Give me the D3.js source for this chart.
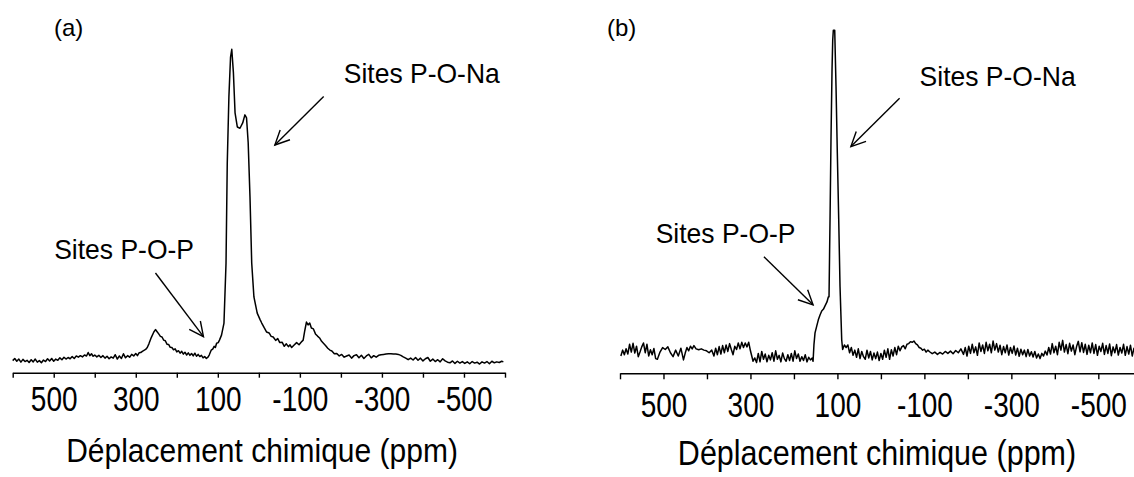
<!DOCTYPE html>
<html>
<head>
<meta charset="utf-8">
<script src="https://cdn.jsdelivr.net/npm/d3@7"></script>
<style>
  html, body { margin: 0; padding: 0; background: #fff; }
  svg { display: block; }
  text { font-family: "Liberation Sans", Arial, sans-serif; fill: #000; }
</style>
</head>
<body>
<svg id="chart" width="1134" height="477"></svg>
<script>
// Chemical shift axis (ppm): ticks every 100, labels on odd hundreds
const tickValues = [600, 500, 400, 300, 200, 100, 0, -100, -200, -300, -400, -500, -600];
const tickLabels = [500, 300, 100, -100, -300, -500];
const axisTitle = "Déplacement chimique (ppm)";

// Spectrum (a): [shift ppm, relative intensity]
const spectrumA = [
  [600,-0.2],[595,0.5],[590,-0.4],[585,0.3],[580,-0.7],[575,0.2],[570,-0.5],[565,-0.1],
  [560,-0.8],[555,0.1],[550,-0.6],[545,0.3],[540,-0.7],[535,-0.2],[530,-0.9],[525,0.0],
  [520,-0.5],[515,0.4],[510,-0.3],[505,0.5],[500,-0.4],[495,0.3],[490,-0.1],[485,0.7],
  [480,0.1],[475,0.9],[470,0.3],[465,0.8],[460,0.4],[455,1.1],[450,0.5],[445,1.3],
  [440,0.9],[435,1.4],[430,1.0],[425,1.6],[420,1.3],[416,2.4],[412,1.4],[408,2.0],
  [404,1.2],[400,1.6],[395,1.0],[390,1.5],[385,0.8],[380,1.4],[375,0.6],[370,1.2],
  [365,0.4],[360,1.0],[355,0.6],[350,1.7],[345,0.3],[340,1.3],[335,0.5],[330,2.0],
  [325,0.7],[320,1.4],[315,0.9],[310,1.8],[305,1.3],[300,2.1],[296,1.4],[292,2.3],
  [288,2.4],[284,2.8],[280,3.1],[276,3.4],[272,4.0],[268,5.2],[262,7.3],[256,9.0],
  [252,9.8],[248,9.1],[244,8.4],[240,7.6],[236,7.4],[232,6.4],[228,6.2],[224,5.1],
  [220,5.0],[216,4.1],[212,4.0],[208,3.3],[204,3.6],[200,2.6],[196,3.0],[192,2.2],
  [188,2.8],[184,1.9],[180,2.5],[176,1.6],[172,2.3],[168,1.5],[164,2.1],[160,1.3],
  [156,2.2],[152,1.2],[148,1.8],[144,1.1],[140,1.5],[136,0.7],[132,1.1],[128,0.5],
  [124,0.9],[121,1.6],[116,3.2],[112,3.6],[109,4.4],[106,4.0],[103,5.4],[99,5.6],
  [96,6.4],[91,8.0],[85,11.9],[80,31.2],[77,63.4],[73,84.7],[69,97.5],[66,100],
  [62,92.4],[58,79.5],[52.5,75.0],[46,74.6],[39.4,76.3],[34,78.9],[30,77.9],[26,69.9],
  [21.6,52.5],[17.4,31.2],[12,20.3],[4,15.1],[-3,13.0],[-7,11.9],[-13,10.4],[-19,9.0],
  [-25,8.7],[-30,7.6],[-35,7.4],[-41,6.3],[-46,6.9],[-51,5.6],[-57,5.7],[-62,4.4],
  [-67,5.2],[-72,4.3],[-76,4.9],[-80,4.0],[-86,4.8],[-92,5.6],[-98,4.9],[-103,5.7],
  [-108,6.4],[-112,9.5],[-116,12.2],[-120,11.3],[-124,11.9],[-128,10.3],[-133,10.0],[-138,8.4],
  [-143,7.7],[-148,7.1],[-153,6.0],[-158,5.3],[-163,4.6],[-168,3.8],[-173,3.2],[-178,2.9],
  [-184,2.0],[-190,2.1],[-196,1.3],[-202,1.8],[-208,0.9],[-214,1.3],[-220,1.6],[-226,0.6],
  [-232,1.4],[-238,1.7],[-244,0.7],[-250,1.5],[-256,0.5],[-262,1.3],[-268,1.8],[-274,0.7],
  [-280,1.4],[-286,0.9],[-292,1.5],[-298,1.7],[-304,1.8],[-310,1.9],[-316,2.0],[-322,2.0],
  [-328,1.9],[-334,1.9],[-340,1.8],[-346,1.5],[-352,1.0],[-358,0.6],[-364,0.1],[-370,0.6],
  [-376,0.0],[-382,0.8],[-388,-0.1],[-394,0.6],[-400,-0.3],[-406,0.4],[-412,0.8],[-418,-0.4],
  [-424,0.3],[-430,-0.5],[-436,0.1],[-442,-0.6],[-448,0.4],[-454,-0.3],[-460,-0.7],[-466,-0.9],
  [-472,-0.3],[-478,-1.1],[-484,-0.4],[-490,-1.0],[-496,-0.5],[-502,-1.1],[-508,-0.6],[-514,-1.2],
  [-520,-0.5],[-526,-1.0],[-532,-0.7],[-538,-1.3],[-544,-0.6],[-550,-1.0],[-556,-0.5],[-562,-1.2],
  [-568,-0.4],[-574,-0.9],[-580,-0.6],[-586,-0.8],[-592,-0.4],[-596,-0.6]
];

// Spectrum (b): [shift ppm, relative intensity]
const spectrumB = [
  [598,0.0],[594,1.8],[590,0.4],[586,2.2],[582,0.6],[578,3.6],[574,1.2],[570,3.9],
  [566,0.9],[562,3.0],[558,-0.2],[554,1.2],[550,2.8],[546,4.0],[542,1.0],[538,3.6],
  [534,0.0],[530,1.9],[526,0.4],[522,2.3],[518,-0.8],[514,-1.0],[508,1.2],[502,2.6],
  [496,2.0],[490,2.8],[484,1.0],[478,-0.2],[472,1.8],[466,0.0],[460,2.4],[454,-1.2],
  [450,0.9],[446,2.6],[442,1.6],[438,3.0],[434,2.2],[430,3.2],[425,2.2],[419,1.9],
  [413,2.2],[407,1.8],[401,1.6],[395,1.0],[389,1.8],[384,0.0],[380,2.4],[376,0.4],
  [372,2.9],[368,0.6],[364,3.2],[360,1.0],[356,3.4],[352,1.4],[348,3.8],[344,2.0],
  [340,0.4],[336,3.0],[332,2.0],[328,4.0],[324,2.2],[320,4.2],[316,2.6],[312,4.0],
  [308,2.8],[304,4.2],[300,1.6],[297,0.0],[294,-1.6],[290,-0.6],[286,-2.0],[282,0.8],
  [278,-1.8],[274,1.4],[270,-1.0],[266,0.6],[262,-1.8],[258,0.2],[254,-1.2],[250,1.0],
  [246,-1.6],[242,1.6],[238,-1.0],[234,0.2],[230,-1.8],[226,0.9],[222,-0.8],[218,-1.6],
  [214,0.4],[210,-1.4],[206,0.8],[202,-1.6],[198,1.6],[194,-0.8],[190,0.6],[186,-1.6],
  [182,-0.2],[178,-1.4],[174,0.4],[170,-1.8],[166,-0.4],[162,-1.2],[158,-0.6],[156,-1.6],
  [154,3.4],[151.5,7.1],[147,9.5],[143.9,11.1],[140,12.6],[136.1,13.8],[132,14.4],[128.5,15.4],
  [124,16.6],[120.9,18.1],[119.3,18.2],[117,41.8],[114.7,67.3],[112.4,87.8],[110.8,97],[109.4,100],
  [106.2,100],[103.2,82.7],[100.2,62.2],[97,41.8],[94,21.3],[90.1,4.9],[88,2.0],[84,3.4],
  [80,2.6],[76,3.4],[72,1.0],[68,2.6],[64,0.2],[60,1.8],[56,-0.4],[52,2.2],
  [48,-0.8],[44,1.4],[40,-0.2],[36,-1.0],[32,1.8],[28,-0.6],[24,1.4],[20,-1.2],
  [16,0.9],[12,-0.8],[8,1.2],[4,-1.4],[0,0.8],[-4,-1.0],[-8,1.8],[-12,-0.4],
  [-16,2.2],[-20,-1.0],[-24,1.9],[-28,0.0],[-32,2.6],[-36,0.4],[-40,3.0],[-44,1.6],
  [-48,2.8],[-52,3.2],[-56,2.2],[-60,3.6],[-64,3.8],[-68,4.4],[-72,4.2],[-76,4.6],
  [-80,3.8],[-84,3.4],[-88,2.6],[-92,2.4],[-96,1.8],[-100,2.1],[-104,1.2],[-108,1.8],
  [-112,1.3],[-118,0.7],[-124,1.2],[-130,0.5],[-136,1.1],[-142,0.6],[-148,1.4],[-154,0.8],
  [-160,1.5],[-166,0.7],[-172,1.7],[-178,1.0],[-184,2.2],[-190,0.5],[-194,2.6],[-198,0.0],
  [-202,3.0],[-206,0.8],[-210,3.6],[-214,1.0],[-218,2.8],[-222,0.2],[-226,4.0],[-230,1.4],
  [-234,3.4],[-238,0.8],[-242,4.2],[-246,1.6],[-250,3.6],[-254,1.0],[-258,4.6],[-262,1.8],
  [-266,3.8],[-270,1.2],[-274,3.3],[-278,0.4],[-282,2.9],[-286,1.0],[-290,3.4],[-294,0.3],
  [-298,2.6],[-302,0.8],[-306,3.1],[-310,0.3],[-314,2.4],[-318,-0.1],[-322,2.1],[-326,0.4],
  [-330,1.8],[-334,-0.2],[-338,2.0],[-342,0.0],[-346,1.3],[-350,-0.3],[-354,1.4],[-358,-0.6],
  [-362,0.6],[-366,-0.8],[-370,0.8],[-374,0.0],[-378,1.5],[-382,0.3],[-386,2.6],[-390,0.6],
  [-394,3.8],[-398,1.0],[-402,3.0],[-406,0.4],[-410,4.2],[-414,1.8],[-418,4.8],[-422,1.2],
  [-426,3.5],[-430,0.7],[-434,3.9],[-438,1.5],[-442,3.4],[-446,0.4],[-450,2.9],[-454,4.5],
  [-458,1.3],[-462,4.1],[-466,1.1],[-470,3.6],[-474,0.5],[-478,3.3],[-482,1.0],[-486,4.0],
  [-490,0.8],[-494,3.5],[-498,0.2],[-502,3.0],[-506,1.4],[-510,3.9],[-514,0.5],[-518,3.2],
  [-522,0.8],[-526,3.7],[-530,0.1],[-534,2.8],[-538,1.0],[-542,3.5],[-546,0.3],[-550,2.6],
  [-554,0.9],[-558,3.6],[-562,0.2],[-566,2.9],[-570,0.6],[-574,3.3],[-578,0.0],[-582,2.4],
  [-586,0.8],[-590,1.6],[-594,0.4],[-600,1.5]
];

// Annotation anchors in data space: text start [ppm, I], arrow tail, arrow head
const notesA = [
  { text: "Sites P-O-Na", at: [-207, 89.2], from: [-158, 84.8], to: [-39, 69.2] },
  { text: "Sites P-O-P",  at: [499, 32.5],  from: [252, 28.0],  to: [135, 7.5] }
];
const notesB = [
  { text: "Sites P-O-Na", at: [-89, 82.9],  from: [-43, 79.1],  to: [69, 64.3] },
  { text: "Sites P-O-P",  at: [518, 34.7],  from: [269, 30.5],  to: [156, 15.7] }
];

const svg = d3.select("#chart");
svg.append("rect").attr("width", 1134).attr("height", 477).attr("fill", "#fff");

// text that is slightly taller than wide, anchored at its baseline
function tallText(sel, x, y, sy) {
  return sel.attr("x", 0).attr("y", 0)
    .attr("transform", `translate(${x},${y}) scale(1,${sy})`);
}

function drawPanel(cfg) {
  const x = d3.scaleLinear().domain([600, -600]).range(cfg.xRange);
  const y = d3.scaleLinear().domain([0, 100]).range(cfg.yRange);
  const g = svg.append("g");

  // x axis
  const axis = d3.axisBottom(x)
    .tickValues(tickValues)
    .tickSize(cfg.tickSize)
    .tickSizeOuter(0)
    .tickFormat(d => tickLabels.includes(d) ? String(d) : "");
  const ax = g.append("g")
    .attr("transform", `translate(0,${cfg.axisY})`)
    .call(axis);
  ax.select(".domain").attr("stroke", "#000").attr("stroke-width", 1.6);
  ax.selectAll(".tick line").attr("stroke", "#000").attr("stroke-width", 1.4);
  ax.selectAll(".tick text")
    .attr("dy", null)
    .attr("font-family", "Liberation Sans, Arial, sans-serif")
    .attr("font-size", cfg.tickFont)
    .attr("fill", "#000")
    .each(function () { tallText(d3.select(this), 0, cfg.labelDy, 1.22); });

  // axis title
  tallText(g.append("text"), cfg.titleX, cfg.titleY, 1.12)
    .attr("text-anchor", "middle")
    .attr("font-size", cfg.titleFont)
    .text(axisTitle);

  // panel letter
  g.append("text")
    .attr("x", cfg.letterX).attr("y", cfg.letterY)
    .attr("font-size", 24)
    .text(cfg.letter);

  // spectrum trace
  const line = d3.line().x(d => x(d[0])).y(d => y(d[1]));
  g.append("path")
    .datum(cfg.data)
    .attr("fill", "none")
    .attr("stroke", "#000")
    .attr("stroke-width", 1.5)
    .attr("stroke-linejoin", "round")
    .attr("d", line);

  // annotations with open arrowheads
  cfg.notes.forEach(n => {
    tallText(g.append("text"), x(n.at[0]), y(n.at[1]), 1.06)
      .attr("font-size", 26.5)
      .text(n.text);
    const x1 = x(n.from[0]), y1 = y(n.from[1]);
    const x2 = x(n.to[0]), y2 = y(n.to[1]);
    g.append("line")
      .attr("x1", x1).attr("y1", y1).attr("x2", x2).attr("y2", y2)
      .attr("stroke", "#000").attr("stroke-width", 1.4);
    const ang = Math.atan2(y1 - y2, x1 - x2);
    const len = 16, spread = 0.45;
    const head = [ang - spread, ang + spread].map(a => [x2 + len * Math.cos(a), y2 + len * Math.sin(a)]);
    g.append("path")
      .attr("d", `M${head[0][0]},${head[0][1]}L${x2},${y2}L${head[1][0]},${head[1][1]}`)
      .attr("fill", "none").attr("stroke", "#000").attr("stroke-width", 1.4);
  });
}

drawPanel({
  letter: "(a)", letterX: 54, letterY: 36,
  xRange: [12.7, 505], yRange: [360, 49.3],
  axisY: 372.7, tickSize: 5, labelDy: 38.5, tickFont: 28,
  titleX: 262, titleY: 462, titleFont: 30,
  data: spectrumA, notes: notesA
});

drawPanel({
  letter: "(b)", letterX: 607, letterY: 36,
  xRange: [620, 1141.8], yRange: [356, 30.3],
  axisY: 373.3, tickSize: 6, labelDy: 43.5, tickFont: 28,
  titleX: 877, titleY: 465, titleFont: 30.5,
  data: spectrumB, notes: notesB
});
</script>
</body>
</html>
